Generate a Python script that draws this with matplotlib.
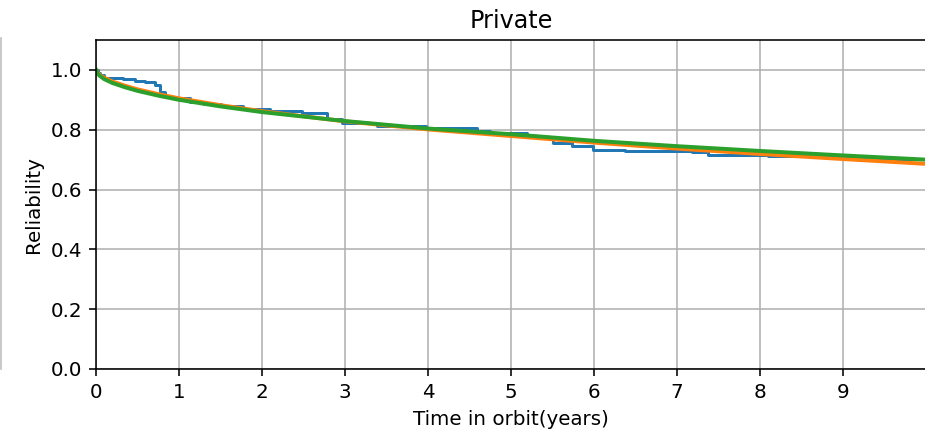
import numpy as np
import matplotlib.pyplot as plt
from matplotlib.lines import Line2D

# --- Kaplan-Meier estimate (step function) ---
km_time = [0.0, 0.02, 0.05, 0.10, 0.33, 0.47, 0.59, 0.71, 0.77, 0.83, 0.90,
           1.13, 1.30, 1.50, 1.77, 2.10, 2.48, 2.78, 2.96, 3.38, 3.98, 4.59,
           4.75, 5.19, 5.50, 5.73, 5.99, 6.37, 7.18, 7.37, 8.10, 8.60, 9.10,
           9.53, 10.0]
km_rel = [1.000, 0.990, 0.982, 0.973, 0.969, 0.963, 0.958, 0.951, 0.926, 0.912, 0.905,
          0.893, 0.887, 0.879, 0.869, 0.863, 0.856, 0.836, 0.821, 0.812, 0.805, 0.797,
          0.789, 0.776, 0.755, 0.745, 0.733, 0.728, 0.724, 0.716, 0.712, 0.709, 0.706,
          0.702, 0.700]

# --- fitted reliability curves ---
fit_time = [0.0, 0.02, 0.05, 0.1, 0.2, 0.35, 0.5, 0.75, 1.0, 1.5, 2.0, 3.0,
            4.0, 5.0, 6.0, 7.0, 8.0, 9.0, 10.0]
fit_a = [1.000, 0.990, 0.982, 0.974, 0.961, 0.947, 0.935, 0.919, 0.905, 0.882, 0.862, 0.828,
         0.801, 0.779, 0.757, 0.737, 0.719, 0.702, 0.686]
fit_b = [1.000, 0.987, 0.979, 0.969, 0.956, 0.942, 0.930, 0.914, 0.900, 0.878, 0.859, 0.829,
         0.804, 0.785, 0.763, 0.745, 0.729, 0.714, 0.700]

# figure was drawn at a larger scale, so bump sizes accordingly
s = 1.43
plt.rcParams.update({
    'font.size': 10 * s,
    'axes.titlesize': 12 * s,
    'axes.linewidth': 0.8 * s,
    'grid.linewidth': 0.8 * s,
    'xtick.major.size': 3.5 * s,
    'ytick.major.size': 3.5 * s,
    'xtick.major.width': 0.8 * s,
    'ytick.major.width': 0.8 * s,
    'xtick.major.pad': 3.5 * s,
    'ytick.major.pad': 3.5 * s,
    'axes.labelpad': 4 * s,
    'axes.titlepad': 6 * s,
})

fig = plt.figure(figsize=(9.25, 4.34), dpi=100)
ax = fig.add_axes([96 / 925, 65 / 434, 830 / 925, 329 / 434])

ax.plot(km_time, km_rel, drawstyle='steps-post', color='#1f77b4', linewidth=1.5 * s)
ax.plot(fit_time, fit_a, color='#ff7f0e', linewidth=2 * s)
ax.plot(fit_time, fit_b, color='#2ca02c', linewidth=2 * s)

ax.set_xlim(0, 10)
ax.set_ylim(0, 1.1)
ax.set_xticks(range(10))
ax.set_yticks([0.0, 0.2, 0.4, 0.6, 0.8, 1.0])
ax.grid(True)
ax.set_title('Private')
ax.set_xlabel('Time in orbit(years)')
ax.set_ylabel('Reliability')

# edge of the neighbouring panel
fig.add_artist(Line2D([0.5 / 925, 0.5 / 925], [1 - 38 / 434, 1 - 369 / 434],
                      color='#c0c0c0', linewidth=1.2))

plt.savefig('out.png', dpi=100)
